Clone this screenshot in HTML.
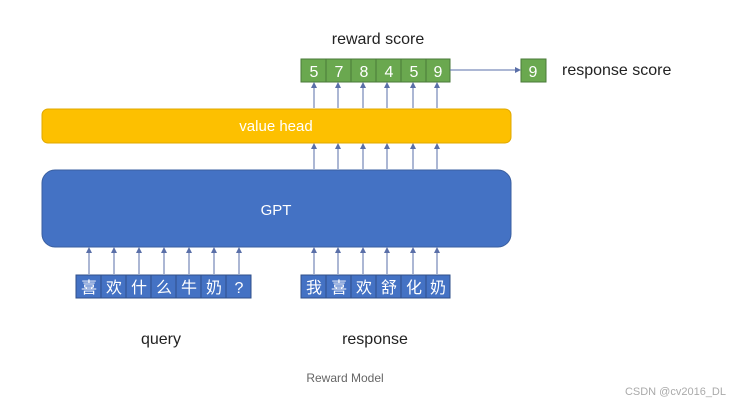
<!DOCTYPE html>
<html><head><meta charset="utf-8"><style>
html,body{margin:0;padding:0;background:#fff;}
svg{display:block;}
text{font-family:"Liberation Sans","Noto Sans CJK SC",sans-serif;}
</style></head><body>
<svg width="741" height="404" viewBox="0 0 741 404" xmlns="http://www.w3.org/2000/svg">
<defs><marker id="a" markerWidth="6" markerHeight="6" refX="5" refY="3" orient="auto" markerUnits="userSpaceOnUse"><path d="M0,0 L6,3 L0,6 z" fill="#5a6fa8"/></marker></defs>
<text x="378" y="44" font-size="16" text-anchor="middle" fill="#222">reward score</text>
<text x="562" y="75" font-size="16" fill="#222">response score</text>
<g fill="#6aa84f" stroke="#4a7a3a" stroke-width="1">
<rect x="301" y="59" width="25" height="23"/><rect x="326" y="59" width="25" height="23"/><rect x="351" y="59" width="25" height="23"/><rect x="376" y="59" width="25" height="23"/><rect x="401" y="59" width="25" height="23"/><rect x="426" y="59" width="24" height="23"/>
<rect x="521" y="59" width="25" height="23"/>
</g>
<g fill="#fff" font-size="16" text-anchor="middle">
<text x="314" y="77">5</text><text x="339" y="77">7</text><text x="364" y="77">8</text><text x="389" y="77">4</text><text x="414" y="77">5</text><text x="438" y="77">9</text><text x="533" y="77">9</text>
</g>
<line x1="450" y1="70" x2="520" y2="70" stroke="#5a6fa8" stroke-width="1" marker-end="url(#a)"/>
<rect x="42" y="109" width="469" height="34" rx="6" fill="#fdc000" stroke="#e0a800"/>
<text x="276" y="131" font-size="15" text-anchor="middle" fill="#fff">value head</text>
<rect x="42" y="170" width="469" height="77" rx="13" fill="#4472c4" stroke="#3a5fa0"/>
<text x="276" y="215" font-size="15" text-anchor="middle" fill="#fff">GPT</text>
<g stroke="#5a6fa8" stroke-width="1" marker-end="url(#a)">
<line x1="314" y1="108" x2="314" y2="83"/><line x1="338" y1="108" x2="338" y2="83"/><line x1="363" y1="108" x2="363" y2="83"/><line x1="387" y1="108" x2="387" y2="83"/><line x1="413" y1="108" x2="413" y2="83"/><line x1="437" y1="108" x2="437" y2="83"/>
<line x1="314" y1="169" x2="314" y2="144"/><line x1="338" y1="169" x2="338" y2="144"/><line x1="363" y1="169" x2="363" y2="144"/><line x1="387" y1="169" x2="387" y2="144"/><line x1="413" y1="169" x2="413" y2="144"/><line x1="437" y1="169" x2="437" y2="144"/>
<line x1="89" y1="274" x2="89" y2="248"/><line x1="114" y1="274" x2="114" y2="248"/><line x1="139" y1="274" x2="139" y2="248"/><line x1="164" y1="274" x2="164" y2="248"/><line x1="189" y1="274" x2="189" y2="248"/><line x1="214" y1="274" x2="214" y2="248"/><line x1="239" y1="274" x2="239" y2="248"/>
<line x1="314" y1="274" x2="314" y2="248"/><line x1="338" y1="274" x2="338" y2="248"/><line x1="363" y1="274" x2="363" y2="248"/><line x1="387" y1="274" x2="387" y2="248"/><line x1="413" y1="274" x2="413" y2="248"/><line x1="437" y1="274" x2="437" y2="248"/>
</g>
<g fill="#4472c4" stroke="#2f4f8a" stroke-width="1">
<rect x="76" y="275" width="25" height="23"/><rect x="101" y="275" width="25" height="23"/><rect x="126" y="275" width="25" height="23"/><rect x="151" y="275" width="25" height="23"/><rect x="176" y="275" width="25" height="23"/><rect x="201" y="275" width="25" height="23"/><rect x="226" y="275" width="25" height="23"/>
<rect x="301" y="275" width="25" height="23"/><rect x="326" y="275" width="25" height="23"/><rect x="351" y="275" width="25" height="23"/><rect x="376" y="275" width="25" height="23"/><rect x="401" y="275" width="25" height="23"/><rect x="426" y="275" width="24" height="23"/>
</g>
<g fill="#fff" font-size="16" text-anchor="middle">
<text x="89" y="293">喜</text><text x="114" y="293">欢</text><text x="139" y="293">什</text><text x="164" y="293">么</text><text x="189" y="293">牛</text><text x="214" y="293">奶</text><text x="239" y="293">?</text>
<text x="314" y="293">我</text><text x="339" y="293">喜</text><text x="364" y="293">欢</text><text x="389" y="293">舒</text><text x="414" y="293">化</text><text x="438" y="293">奶</text>
</g>
<text x="161" y="344" font-size="16" text-anchor="middle" fill="#222">query</text>
<text x="375" y="344" font-size="16" text-anchor="middle" fill="#222">response</text>
<text x="345" y="382" font-size="12" text-anchor="middle" fill="#666">Reward Model</text>
<text x="726" y="395" font-size="11" text-anchor="end" fill="#aaa">CSDN @cv2016_DL</text>
</svg>
</body></html>
